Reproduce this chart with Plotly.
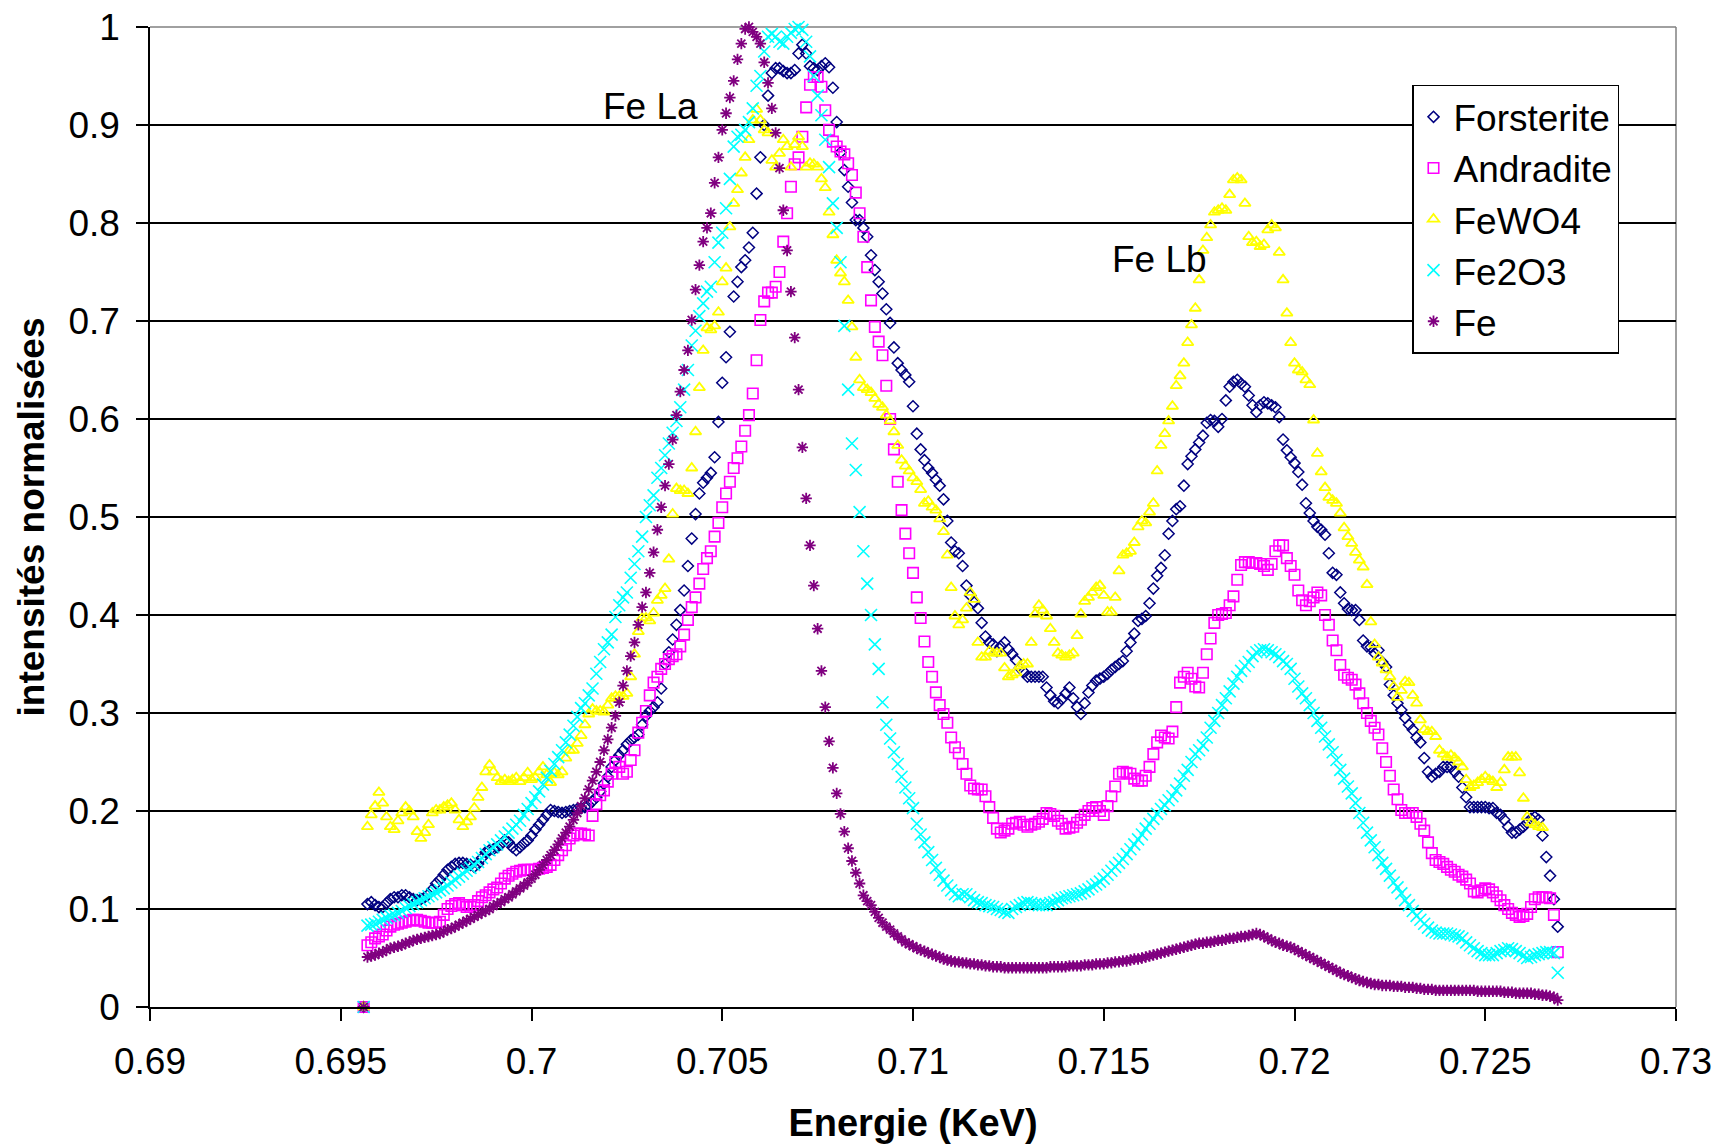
import plotly.graph_objects as go

# Energy grid (keV): first point 0.6956, step 0.0001
energy_start = 0.6956
energy_step = 0.0001

forsterite = [
    0, .105, .107, .104,
    .102, .102, .106, .110, .112, .112, .114, .114, .112, .110,
    .109, .110, .112, .115, .120, .126, .130, .135, .140, .143,
    .146, .147, .147, .146, .145, .143, .146, .152, .158, .160,
    .161, .163, .166, .170, .168, .163, .160, .163, .167, .170,
    .175, .181, .186, .191, .196, .201, .200, .199, .198, .199,
    .200, .201, .202, .203, .204, .206, .210, .214, .220, .228,
    .235, .245, .252, .257, .262, .268, .272, .275, .278, .288,
    .297, .302, .306, .311, .325, .350, .362, .375, .390, .405,
    .425, .450, .478, .503, .524, .535, .540, .545, .561, .597,
    .637, .663, .689, .725, .740, .755, .762, .775, .790, .830,
    .867, .900, .930, .953, .958, .958, .955, .953, .953, .956,
    .973, .982, .973, .960, .958, .956, .960, .963, .959, .938,
    .903, .872, .854, .837, .821, .803, .803, .795, .786, .767,
    .752, .740, .728, .712, .698, .673, .657, .650, .645, .638,
    .613, .585, .569, .558, .550, .545, .538, .532, .518, .496,
    .474, .465, .463, .450, .430, .420, .413, .407, .392, .378,
    .372, .370, .363, .368, .372, .365, .360, .354, .346, .342,
    .337, .337, .337, .337, .337, .326, .318, .312, .310, .314,
    .320, .326, .315, .306, .299, .310, .321, .328, .333, .335,
    .337, .340, .344, .347, .350, .353, .363, .372, .381, .394,
    .396, .399, .412, .427, .440, .448, .461, .483, .496, .508,
    .511, .532, .554, .562, .569, .576, .583, .596, .599, .598,
    .592, .600, .619, .633, .638, .640, .636, .633, .624, .614,
    .607, .614, .617, .616, .614, .612, .602, .579, .568, .561,
    .555, .546, .533, .514, .504, .496, .490, .487, .482, .463,
    .443, .441, .423, .412, .406, .405, .405, .395, .374, .368,
    .367, .361, .364, .352, .347, .329, .318, .310, .303, .295,
    .288, .283, .275, .270, .254, .240, .235, .238, .240, .245,
    .245, .245, .240, .235, .224, .214, .204, .204, .204, .204,
    .204, .203, .203, .198, .196, .191, .184, .178, .178, .181,
    .184, .188, .192, .194, .191, .175, .153, .134, .110, .082,
]

andradite = [
    0, .063, .066, .070,
    .072, .074, .078, .082, .084, .085, .086, .087, .088, .089,
    .089, .088, .087, .086, .086, .086, .087, .094, .100, .103,
    .105, .106, .104, .102, .102, .104, .108, .112, .114, .117,
    .120, .122, .126, .131, .134, .136, .138, .139, .140, .140,
    .140, .140, .141, .142, .143, .145, .150, .155, .160, .165,
    .172, .175, .177, .177, .176, .175, .195, .207, .216, .221,
    .230, .238, .250, .245, .238, .240, .252, .262, .280, .290,
    .302, .318, .331, .337, .345, .350, .355, .358, .360, .368,
    .380, .395, .408, .418, .432, .447, .458, .465, .480, .494,
    .510, .524, .536, .550, .560, .572, .588, .604, .626, .660,
    .701, .720, .729, .729, .735, .750, .781, .810, .837, .860,
    .867, .888, .918, .941, .949, .949, .939, .915, .895, .883,
    .878, .873, .870, .861, .849, .831, .810, .786, .755, .721,
    .694, .679, .665, .634, .600, .569, .536, .507, .483, .463,
    .443, .418, .397, .373, .352, .337, .321, .308, .299, .290,
    .275, .265, .259, .248, .238, .226, .223, .222, .222, .215,
    .204, .193, .182, .178, .180, .182, .187, .188, .189, .186,
    .184, .186, .187, .189, .192, .198, .197, .195, .190, .187,
    .182, .183, .184, .188, .191, .196, .200, .203, .204, .200,
    .196, .205, .215, .225, .238, .240, .239, .238, .233, .231,
    .231, .236, .245, .258, .270, .277, .275, .274, .281, .306,
    .331, .337, .341, .335, .327, .326, .341, .360, .376, .392,
    .400, .401, .402, .410, .419, .436, .451, .454, .454, .453,
    .453, .452, .450, .446, .452, .465, .471, .471, .458, .450,
    .441, .425, .415, .410, .414, .418, .423, .420, .400, .390,
    .374, .364, .349, .339, .336, .334, .329, .320, .310, .300,
    .292, .285, .278, .264, .250, .236, .222, .212, .201, .198,
    .198, .198, .194, .187, .180, .168, .157, .150, .148, .146,
    .143, .140, .138, .135, .133, .130, .126, .118, .117, .119,
    .121, .120, .117, .113, .109, .104, .100, .096, .094, .092,
    .093, .095, .102, .110, .112, .112, .112, .111, .094, .056,
]

fewo4 = [
    0, .184, .196, .205,
    .219, .208, .194, .184, .181, .190, .198, .204, .200, .194,
    .179, .172, .178, .186, .198, .201, .201, .204, .206, .208,
    .201, .191, .184, .189, .194, .203, .214, .224, .240, .247,
    .240, .234, .230, .232, .230, .232, .234, .230, .234, .239,
    .232, .234, .240, .245, .237, .229, .239, .237, .240, .254,
    .262, .262, .269, .277, .288, .299, .304, .302, .302, .301,
    .308, .315, .317, .317, .317, .320, .337, .360, .383, .397,
    .397, .394, .402, .415, .420, .427, .457, .503, .529, .527,
    .527, .524, .550, .587, .632, .670, .693, .691, .695, .709,
    .740, .754, .796, .820, .834, .851, .867, .885, .905, .916,
    .905, .895, .892, .864, .857, .871, .885, .878, .857, .880,
    .888, .878, .857, .861, .860, .857, .845, .836, .811, .788,
    .762, .749, .740, .721, .694, .663, .640, .632, .630, .627,
    .621, .615, .612, .604, .598, .587, .573, .558, .552, .547,
    .540, .536, .528, .514, .516, .510, .507, .498, .485, .461,
    .428, .399, .390, .395, .407, .423, .416, .372, .357, .357,
    .363, .361, .361, .361, .346, .337, .339, .341, .348, .350,
    .350, .372, .401, .410, .405, .399, .386, .372, .361, .359,
    .357, .359, .361, .379, .401, .414, .418, .423, .428, .430,
    .420, .403, .403, .418, .445, .461, .463, .465, .474, .490,
    .496, .494, .505, .514, .547, .573, .585, .598, .613, .634,
    .644, .657, .678, .696, .713, .742, .772, .785, .798, .811,
    .813, .815, .813, .829, .844, .846, .844, .820, .786, .780,
    .781, .776, .778, .793, .798, .795, .770, .742, .708, .678,
    .657, .650, .648, .640, .635, .599, .565, .546, .530, .520,
    .517, .514, .504, .489, .480, .473, .464, .456, .449, .431,
    .393, .370, .357, .351, .344, .337, .327, .316, .323, .332,
    .331, .318, .310, .293, .283, .281, .281, .276, .262, .258,
    .255, .257, .254, .250, .245, .232, .224, .226, .229, .232,
    .235, .232, .230, .224, .229, .242, .255, .255, .255, .239,
    .213, .194, .188, .186, .184, .183, None, None, None, None,
]

fe2o3 = [
    0, .083, .084, .085,
    .087, .089, .091, .093, .094, .096, .098, .101, .103, .105,
    .107, .109, .111, .113, .115, .117, .119, .121, .124, .127,
    .130, .133, .136, .139, .142, .145, .148, .152, .156, .160,
    .163, .166, .170, .174, .178, .182, .186, .190, .196, .202,
    .208, .214, .220, .227, .234, .241, .248, .255, .262, .270,
    .278, .287, .296, .305, .310, .318, .325, .340, .352, .365,
    .372, .380, .398, .410, .418, .423, .438, .452, .465, .480,
    .500, .512, .522, .540, .550, .563, .575, .586, .598, .612,
    .630, .650, .675, .690, .705, .718, .730, .735, .760, .780,
    .790, .815, .845, .878, .888, .890, .895, .903, .917, .940,
    .950, .975, .990, .993, .990, .985, .983, .990, .994, .998,
    1.0, .997, .985, .970, .950, .930, .910, .885, .857, .820,
    .795, .760, .695, .630, .575, .548, .505, .465, .432, .400,
    .370, .345, .311, .288, .274, .260, .248, .235, .224, .213,
    .203, .187, .176, .168, .158, .150, .142, .135, .129, .124,
    .119, .115, .113, .115, .115, .112, .109, .107, .106, .104,
    .103, .102, .100, .099, .097, .096, .100, .102, .104, .106,
    .107, .106, .105, .104, .104, .104, .106, .107, .109, .111,
    .112, .113, .114, .115, .116, .118, .120, .123, .125, .128,
    .131, .135, .139, .143, .147, .151, .156, .161, .166, .171,
    .176, .182, .187, .192, .197, .202, .206, .211, .215, .221,
    .228, .236, .242, .250, .258, .262, .267, .275, .285, .292,
    .300, .308, .315, .322, .330, .337, .343, .348, .352, .358,
    .362, .364, .365, .364, .362, .360, .357, .353, .350, .345,
    .335, .327, .320, .315, .308, .300, .292, .285, .276, .268,
    .260, .252, .242, .233, .225, .218, .208, .198, .188, .178,
    .170, .163, .155, .147, .141, .134, .127, .122, .116, .109,
    .104, .098, .093, .089, .085, .081, .078, .076, .075, .075,
    .075, .074, .073, .072, .070, .066, .063, .060, .057, .055,
    .053, .053, .053, .055, .057, .058, .060, .059, .057, .055,
    .052, .050, .051, .053, .054, .055, .056, .056, .055, .035,
]

fe = [
    0, .051, .052, .053,
    .055, .056, .058, .060, .061, .062, .063, .065, .066, .068,
    .069, .070, .071, .072, .073, .074, .075, .077, .079, .080,
    .082, .084, .086, .088, .090, .092, .094, .096, .098, .100,
    .103, .105, .107, .110, .112, .115, .118, .121, .124, .127,
    .131, .135, .140, .145, .150, .155, .160, .166, .172, .178,
    .184, .191, .198, .205, .213, .222, .231, .240, .250, .262,
    .273, .285, .297, .311, .328, .343, .358, .372, .390, .408,
    .423, .443, .464, .487, .510, .532, .554, .579, .604, .628,
    .650, .670, .701, .732, .757, .781, .795, .810, .841, .867,
    .895, .912, .928, .945, .967, .983, .998, 1.0, .995, .990,
    .983, .964, .943, .917, .892, .856, .813, .772, .730, .683,
    .630, .571, .519, .471, .430, .386, .343, .306, .271, .244,
    .218, .197, .179, .162, .149, .137, .126, .114, .108, .104,
    .097, .091, .086, .082, .079, .075, .072, .069, .066, .064,
    .062, .060, .058, .057, .055, .054, .052, .051, .049, .048,
    .047, .046, .046, .045, .045, .044, .044, .043, .043, .042,
    .042, .041, .041, .041, .040, .040, .040, .040, .040, .040,
    .040, .040, .040, .040, .040, .040, .041, .041, .041, .041,
    .041, .042, .042, .042, .042, .043, .043, .043, .044, .044,
    .044, .045, .045, .046, .046, .047, .047, .048, .049, .049,
    .050, .051, .052, .053, .054, .055, .056, .057, .058, .059,
    .060, .061, .062, .063, .064, .065, .065, .066, .066, .067,
    .068, .068, .069, .070, .070, .071, .072, .072, .073, .074,
    .075, .074, .072, .070, .068, .066, .065, .063, .062, .061,
    .059, .057, .055, .053, .051, .049, .047, .045, .043, .041,
    .039, .037, .035, .033, .032, .030, .029, .027, .026, .025,
    .024, .023, .023, .022, .022, .022, .021, .021, .021, .020,
    .020, .020, .019, .019, .018, .018, .018, .017, .017, .017,
    .017, .017, .017, .017, .017, .017, .017, .017, .016, .016,
    .016, .016, .016, .016, .016, .015, .015, .015, .014, .014,
    .014, .014, .014, .013, .013, .012, .012, .011, .010, .007,
]

series_names = ["Forsterite", "Andradite", "FeWO4", "Fe2O3", "Fe"]
x_tick_vals = [0.69, 0.695, 0.70, 0.705, 0.71, 0.715, 0.72, 0.725, 0.73]
x_tick_text = ["0.69", "0.695", "0.7", "0.705", "0.71", "0.715", "0.72", "0.725", "0.73"]
y_tick_vals = [0, 0.1, 0.2, 0.3, 0.4, 0.5, 0.6, 0.7, 0.8, 0.9, 1.0]
y_tick_text = ["0", "0.1", "0.2", "0.3", "0.4", "0.5", "0.6", "0.7", "0.8", "0.9", "1"]
peak_labels = ["Fe La", "Fe Lb"]
peak_label_x = [0.70311, 0.71647]
peak_label_y = [0.919, 0.763]

all_series = [forsterite, andradite, fewo4, fe2o3, fe]
for s in all_series:
    assert len(s) == len(forsterite), [len(v) for v in all_series]

energy = [round(energy_start + i * energy_step, 4) for i in range(len(forsterite))]

styles = [
    dict(symbol="diamond-open", size=8.5, color="#000080", lw=1.5),
    dict(symbol="square-open", size=10.5, color="#FF00FF", lw=1.6),
    dict(symbol="triangle-up-open", size=10, color="#FFFF00", lw=1.8),
    dict(symbol="x-thin-open", size=12, color="#00FFFF", lw=1.6),
    dict(symbol="asterisk-open", size=9.5, color="#800080", lw=1.8),
]

FONT = "Liberation Sans, Arial, sans-serif"

fig = go.Figure()
for name, vals, st in zip(series_names, all_series, styles):
    fig.add_trace(go.Scatter(
        x=energy, y=vals, mode="markers", name=name, legendgroup=name,
        cliponaxis=False,
        marker=dict(symbol=st["symbol"], size=st["size"], color=st["color"],
                    line=dict(width=st["lw"], color=st["color"])),
    ))

for txt, xx, yy in zip(peak_labels, peak_label_x, peak_label_y):
    fig.add_annotation(x=xx, y=yy, text=txt, showarrow=False,
                       font=dict(size=37, color="black", family=FONT))

# Excel-style gray plot-area border on top and right
fig.add_shape(type="line", xref="paper", yref="paper", x0=0, x1=1, y0=1, y1=1,
              line=dict(color="#808080", width=1.5), layer="below")
fig.add_shape(type="line", xref="paper", yref="paper", x0=1, x1=1, y0=0, y1=1,
              line=dict(color="#808080", width=1.5), layer="below")

fig.update_layout(
    width=1715, height=1147,
    margin=dict(l=150, r=39, t=27, b=140),
    paper_bgcolor="white", plot_bgcolor="rgba(0,0,0,0)",
    font=dict(family=FONT, size=37, color="black"),
    showlegend=True,
    legend=dict(x=0.827, y=0.941, xanchor="left", yanchor="top",
                bgcolor="white", bordercolor="black", borderwidth=1.5,
                font=dict(size=37, family=FONT, color="black"),
                tracegroupgap=0, itemsizing="trace"),
    xaxis=dict(range=[0.69, 0.73], tickmode="array", tickvals=x_tick_vals, ticktext=x_tick_text,
               ticks="outside", ticklen=12, tickwidth=1.5, tickcolor="black",
               showline=True, linecolor="black", linewidth=1.5,
               showgrid=False, zeroline=False, automargin=False,
               ticklabelstandoff=9, ticklabeloverflow="allow",
               tickfont=dict(size=37, family=FONT),
               title=dict(text="<b>Energie (KeV)</b>", font=dict(size=38, family=FONT), standoff=28)),
    yaxis=dict(range=[0, 1], tickmode="array", tickvals=y_tick_vals, ticktext=y_tick_text,
               ticks="outside", ticklen=12, tickwidth=1.5, tickcolor="black",
               showline=True, linecolor="black", linewidth=1.5,
               showgrid=True, gridcolor="black", gridwidth=1.5,
               zeroline=False, automargin=False,
               ticklabelstandoff=9, ticklabeloverflow="allow",
               tickfont=dict(size=37, family=FONT),
               title=dict(text="<b>intensités normalisées</b>", font=dict(size=37, family=FONT), standoff=12)),
)

fig.write_html(
    "out.html",
    config={"displayModeBar": False},
    post_script=(
        "document.documentElement.style.overflow='hidden';"
        "document.body.style.margin='0';"
        "document.body.style.overflow='hidden';"
    ),
)
